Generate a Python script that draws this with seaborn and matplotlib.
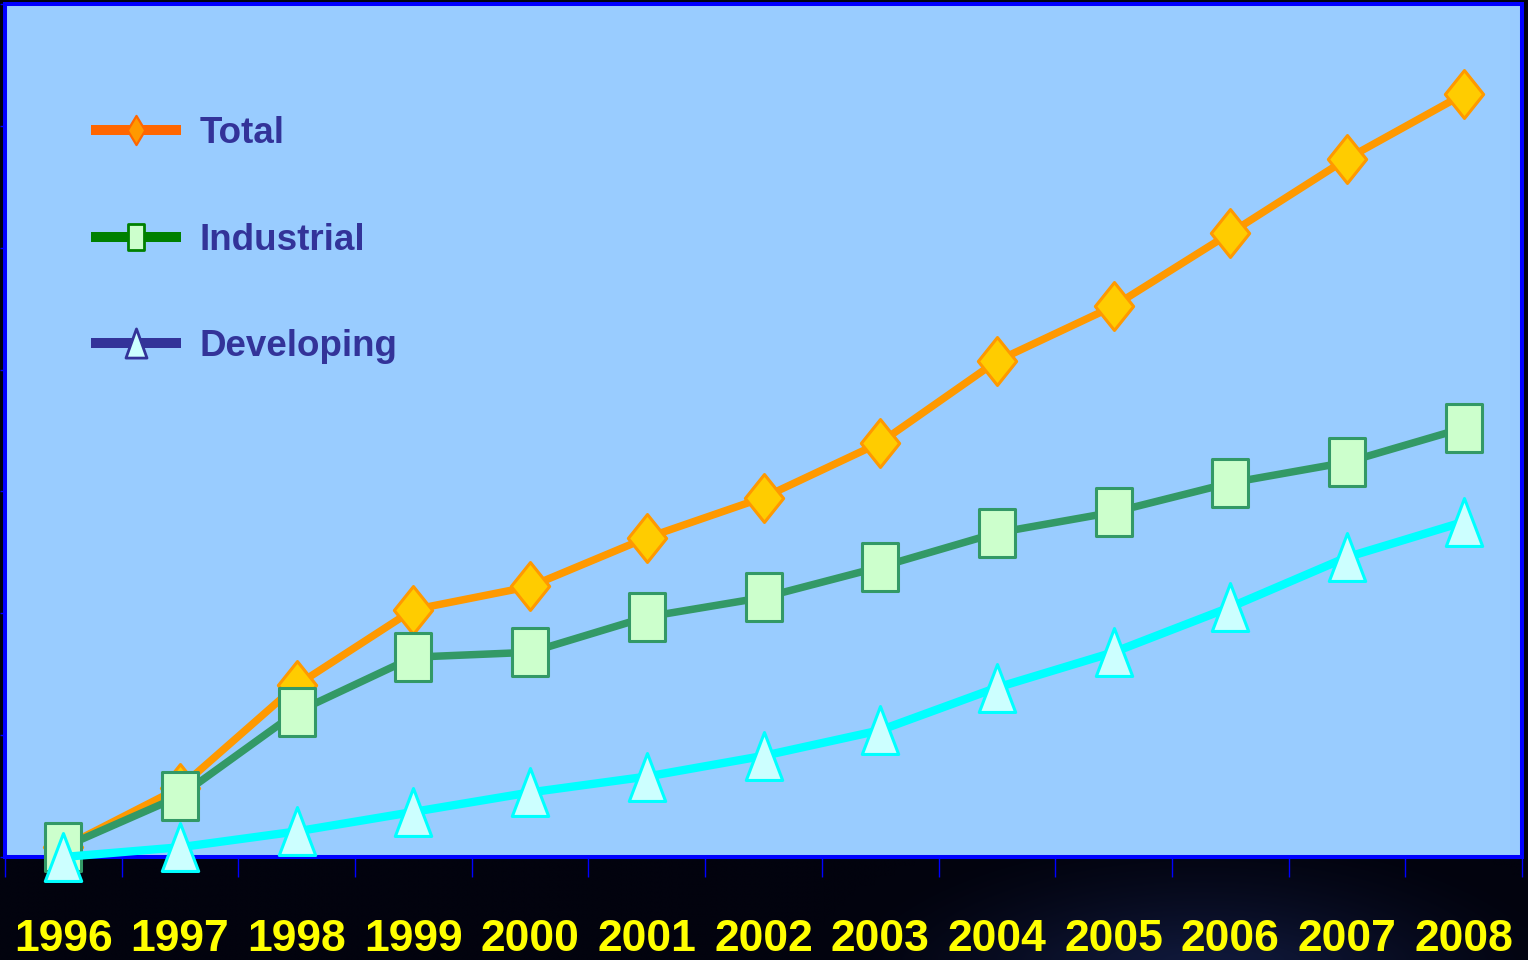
import numpy as np
import matplotlib
matplotlib.use("Agg")
import matplotlib.pyplot as plt
from matplotlib.path import Path
from matplotlib.lines import Line2D
import seaborn as sns

# Series values per year
years = list(range(1996, 2009))
year_labels = [str(y) for y in years]
total = [0.08, 0.57, 1.41, 2.03, 2.22, 2.62, 2.95, 3.40, 4.07, 4.52, 5.12, 5.73, 6.26]
industrial = [0.08, 0.50, 1.19, 1.64, 1.68, 1.97, 2.13, 2.38, 2.66, 2.83, 3.07, 3.24, 3.52]
developing = [0.00, 0.08, 0.21, 0.37, 0.53, 0.66, 0.83, 1.04, 1.39, 1.68, 2.05, 2.46, 2.75]
series_names = ["Total", "Industrial", "Developing"]

sns.set_theme(style="white")
plt.rcParams["font.family"] = ["Liberation Sans", "DejaVu Sans"]

DPI = 100
fig = plt.figure(figsize=(15.28, 9.6), dpi=DPI)

# dark backdrop with a faint glow low on the right
H, W = 96, 153
yy, xx = np.mgrid[0:H, 0:W]
base = np.array([2, 3, 14], float) / 255
glow = np.array([22, 34, 70], float) / 255
d = np.hypot((xx - 120) / 40.0, (yy - 100) / 18.0)
g = np.clip(1 - d, 0, 1)[..., None] ** 1.5
img = np.clip(base + glow * g, 0, 1)
bg = fig.add_axes([0, 0, 1, 1], zorder=-10)
bg.imshow(img, aspect="auto", interpolation="bicubic")
bg.set_axis_off()

ax = fig.add_axes([5 / 1528, 1 - 857 / 960, 1517 / 1528, 853 / 960])
ax.set_facecolor("#99CCFF")


def shape(verts):
    return Path(verts + [verts[0]], closed=True)


diamond = shape([(0, 1), (0.8, 0), (0, -1), (-0.8, 0)])
rect = shape([(-0.75, -1), (0.75, -1), (0.75, 1), (-0.75, 1)])
tri = shape([(0, 1), (0.76, -1), (-0.76, -1)])

lw = 5.4
ms = 34.5
mew = 2.2

sns.lineplot(x=years, y=total, ax=ax, color="#FF9900", linewidth=lw,
             marker=diamond, markersize=ms, markerfacecolor="#FFCC00",
             markeredgecolor="#FF9900", markeredgewidth=mew, clip_on=False,
             zorder=3)
sns.lineplot(x=years, y=industrial, ax=ax, color="#339966", linewidth=lw,
             marker=rect, markersize=ms, markerfacecolor="#CCFFCC",
             markeredgecolor="#339966", markeredgewidth=mew, clip_on=False,
             zorder=4)
sns.lineplot(x=years, y=developing, ax=ax, color="#00FFFF", linewidth=lw + 0.6,
             marker=tri, markersize=ms, markerfacecolor="#CCFFFF",
             markeredgecolor="#00FFFF", markeredgewidth=mew, clip_on=False,
             zorder=5)

ax.set_xlim(1995.5, 2008.5)
ax.set_ylim(0, 7)
ax.set_xlabel("")
ax.set_ylabel("")

ax.set_xticks(years)
ax.set_xticklabels(year_labels)
ax.set_xticks(np.arange(1995.5, 2009.0, 1.0), minor=True)
ax.tick_params(axis="x", which="major", length=0, pad=44.5,
               labelsize=32, labelcolor="#FFFF00")
ax.tick_params(axis="x", which="minor", length=14.5, width=1.0,
               color="#0000FF", direction="out", bottom=True)
for t in ax.get_xticklabels():
    t.set_fontweight("bold")
ax.set_yticks(range(0, 8))
ax.set_yticklabels([])
ax.tick_params(axis="y", which="major", length=3.6, width=1.0,
               color="#0000FF", direction="out", left=True)

for s in ax.spines.values():
    s.set_color("#0000FF")
    s.set_linewidth(2.9)
    s.set_visible(True)

# legend keys drawn in their own palette
leg_diamond = shape([(0, 1), (0.6, 0), (0, -1), (-0.6, 0)])
leg_rect = shape([(-0.62, -1), (0.62, -1), (0.62, 1), (-0.62, 1)])
leg_tri = shape([(0, 1), (0.72, -1), (-0.72, -1)])
handles = [
    Line2D([], [], color="#FF6600", lw=7.2, marker=leg_diamond, ms=21,
           mfc="#FF9900", mec="#FF6600", mew=1.6, solid_capstyle="butt"),
    Line2D([], [], color="#008000", lw=7.2, marker=leg_rect, ms=19,
           mfc="#CCFFCC", mec="#008000", mew=2.0, solid_capstyle="butt"),
    Line2D([], [], color="#333399", lw=7.2, marker=leg_tri, ms=21,
           mfc="#CCFFFF", mec="#333399", mew=2.0, solid_capstyle="butt"),
]
leg = ax.legend(handles, series_names, loc="upper left",
                bbox_to_anchor=(0.0567, 0.869), frameon=False, borderpad=0,
                borderaxespad=0, handlelength=2.45, handletextpad=0.5,
                labelspacing=1.95, numpoints=1,
                prop={"size": 26.5, "weight": "bold"})
for t in leg.get_texts():
    t.set_color("#333399")

fig.savefig("out.png", dpi=DPI, facecolor="#02030e")
